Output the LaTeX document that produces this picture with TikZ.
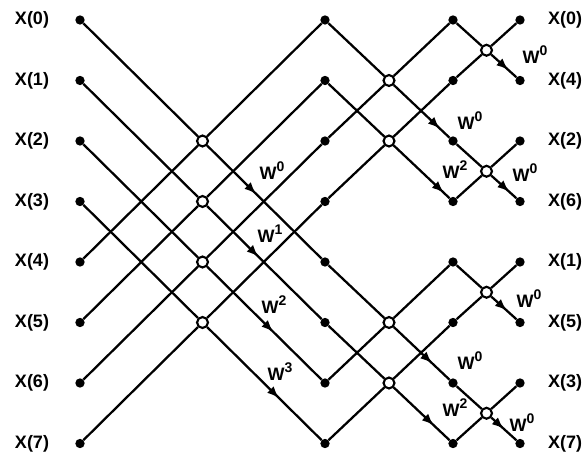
\documentclass[tikz,border=0pt]{standalone}
\usepackage{fontspec}
\setmainfont{Liberation Sans}
\usetikzlibrary{arrows.meta,decorations.markings}

\newcommand\wexp[1]{W\raisebox{0.45em}{\fontsize{10.5}{12}\selectfont #1}}

\begin{document}
\begin{tikzpicture}[x=0.75pt,y=-0.75pt,
	dot/.style={circle,fill,inner sep=0pt,minimum size=7pt},
	sum/.style={circle,draw,fill=white,line width=1.6pt,inner sep=0pt,minimum size=8.2pt},
	lbl/.style={font=\bfseries\fontsize{13.5}{15}\selectfont},
	wire/.style={line width=1.7pt},
	tw/.style={wire,postaction={decorate},decoration={markings,mark=at position #1 with {\arrow{Latex[length=9pt,width=7pt]}}}}]
		\useasboundingbox (0,0) rectangle (584,459);

		% columns of dots and the labels at both sides
		\foreach \k/\n in {0/0,1/4,2/2,3/6,4/1,5/5,6/3,7/7} {
			\node[dot] (i\k) at (80,20+60.5*\k) {};
			\node[dot] (m\k) at (325,20+60.5*\k) {};
			\node[dot] (t\k) at (453,20+60.5*\k) {};
			\node[dot] (o\k) at (520,20+60.5*\k) {};
			\node[lbl] (x\k) at (32,20+60.5*\k) {X(\k)};
			\node[lbl] (y\k) at (565,20+60.5*\k) {X(\n)};
		}

		% butterfly circles
		\foreach \k in {0,...,3}
			\node[sum] (a\k) at (202.5,141+60.5*\k) {};
		\foreach \r in {1,2,5,6}
			\node[sum] (b\r) at (389,20+60.5*\r) {};
		\foreach \p in {0,2,4,6}
			\node[sum] (c\p) at (486.5,50.25+60.5*\p) {};

		% stage 1
		\foreach \k/\pos in {0/0.43,1/0.45,2/0.58,3/0.63} {
			\pgfmathtruncatemacro\j{\k+4}
			\draw[wire] (i\k) -- (a\k);
			\draw[tw=\pos] (a\k) -- (m\j);
			\draw[wire] (i\j) -- (a\k) -- (m\k);
		}

		% stage 2
		\foreach \r/\u/\d/\pos in {1/0/2/0.83,2/1/3/0.9,5/4/6/0.69,6/5/7/0.72} {
			\draw[wire] (m\u) -- (b\r);
			\draw[tw=\pos] (b\r) -- (t\d);
			\draw[wire] (m\d) -- (b\r) -- (t\u);
		}

		% stage 3
		\foreach \p/\pos in {0/0.68,2/0.72,4/0.62,6/0.5} {
			\pgfmathtruncatemacro\q{\p+1}
			\draw[wire] (t\p) -- (c\p);
			\draw[tw=\pos] (c\p) -- (o\q);
			\draw[wire] (t\q) -- (c\p) -- (o\p);
		}

		% twiddle factors
		\node[lbl] (w10) at (272,171) {\wexp{0}};
		\node[lbl] (w11) at (270,234) {\wexp{1}};
		\node[lbl] (w12) at (274,305) {\wexp{2}};
		\node[lbl] (w13) at (280,372) {\wexp{3}};
		\node[lbl] (w20) at (470,121) {\wexp{0}};
		\node[lbl] (w21) at (455,170) {\wexp{2}};
		\node[lbl] (w22) at (470,361) {\wexp{0}};
		\node[lbl] (w23) at (455,408) {\wexp{2}};
		\node[lbl] (w30) at (535,55) {\wexp{0}};
		\node[lbl] (w31) at (525,173) {\wexp{0}};
		\node[lbl] (w32) at (529,299) {\wexp{0}};
		\node[lbl] (w33) at (522,423) {\wexp{0}};
	\end{tikzpicture}
\end{document}
